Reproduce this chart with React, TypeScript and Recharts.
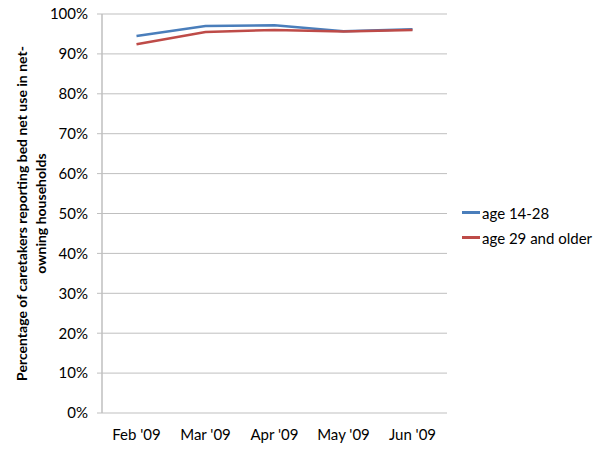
import React from "react";
import { CartesianGrid, Line, LineChart, XAxis, YAxis } from "recharts";

const months = ["Feb '09", "Mar '09", "Apr '09", "May '09", "Jun '09"];
const young = [0.945, 0.97, 0.972, 0.957, 0.962];
const older = [0.924, 0.955, 0.96, 0.956, 0.96];
const yTicks = [0, 0.1, 0.2, 0.3, 0.4, 0.5, 0.6, 0.7, 0.8, 0.9, 1];
const edgeTicks = [0, 1, 2, 3, 4, 5];

const data = months.map((m, i) => ({ month: m, young: young[i], older: older[i] }));

const FONT = "Lato, 'Open Sans', sans-serif";
const AXIS = "#bfbfbf";

function YLabel(props: any) {
  const vb = props.viewBox ?? {};
  const cy = vb.y + vb.height / 2;
  return (
    <text
      transform={`translate(31, ${cy}) rotate(-90)`}
      textAnchor="middle"
      fontFamily={FONT}
      fontWeight="bold"
      fontSize={14}
      fill="#000"
    >
      <tspan x={0} dy={-4}>Percentage of caretakers reporting bed net use in net-</tspan>
      <tspan x={0} dy={19}>owning households</tspan>
    </text>
  );
}

const legendItems = [
  { name: "age 14-28", color: "#4a7ebb" },
  { name: "age 29 and older", color: "#be4b48" },
];

export default function App() {
  return (
    <div style={{ position: "absolute", left: 0, top: 0, width: 600, height: 449, background: "#fff" }}>
      <LineChart
        width={600}
        height={449}
        data={data}
        margin={{ top: 14, right: 153, bottom: 0, left: 0 }}
      >
        <CartesianGrid stroke={AXIS} vertical={false} />
        <XAxis
          xAxisId="edge"
          type="number"
          domain={[0, 5]}
          ticks={edgeTicks}
          tick={false}
          mirror
          tickSize={4}
          height={0}
          stroke={AXIS}
          axisLine={{ stroke: AXIS, strokeWidth: 1.5 }}
        />
        <XAxis
          dataKey="month"
          scale="band"
          axisLine={false}
          tickLine={false}
          tickSize={0}
          tickMargin={16}
          height={36}
          tick={{ fill: "#000", fontSize: 15, fontFamily: FONT }}
          interval={0}
        />
        <YAxis
          width={102}
          domain={[0, 1]}
          ticks={yTicks}
          tickFormatter={(v: number) => `${Math.round(v * 100)}%`}
          tick={{ fill: "#000", fontSize: 15, fontFamily: FONT }}
          stroke={AXIS}
          axisLine={{ stroke: AXIS, strokeWidth: 1.5 }}
          tickSize={5}
          tickMargin={9}
          label={<YLabel />}
        />
        <Line
          dataKey="young"
          name="age 14-28"
          stroke="#4a7ebb"
          strokeWidth={2.5}
          dot={false}
          isAnimationActive={false}
        />
        <Line
          dataKey="older"
          name="age 29 and older"
          stroke="#be4b48"
          strokeWidth={2.5}
          dot={false}
          isAnimationActive={false}
        />
      </LineChart>
      <div
        style={{ position: "absolute", left: 462, top: 200, fontFamily: FONT, fontSize: 15, color: "#000" }}
      >
        {legendItems.map((it) => (
          <div key={it.name} style={{ display: "flex", alignItems: "center", height: 25 }}>
            <span
              style={{ display: "inline-block", width: 18, height: 2.5, background: it.color, marginRight: 2 }}
            />
            {it.name}
          </div>
        ))}
      </div>
    </div>
  );
}
